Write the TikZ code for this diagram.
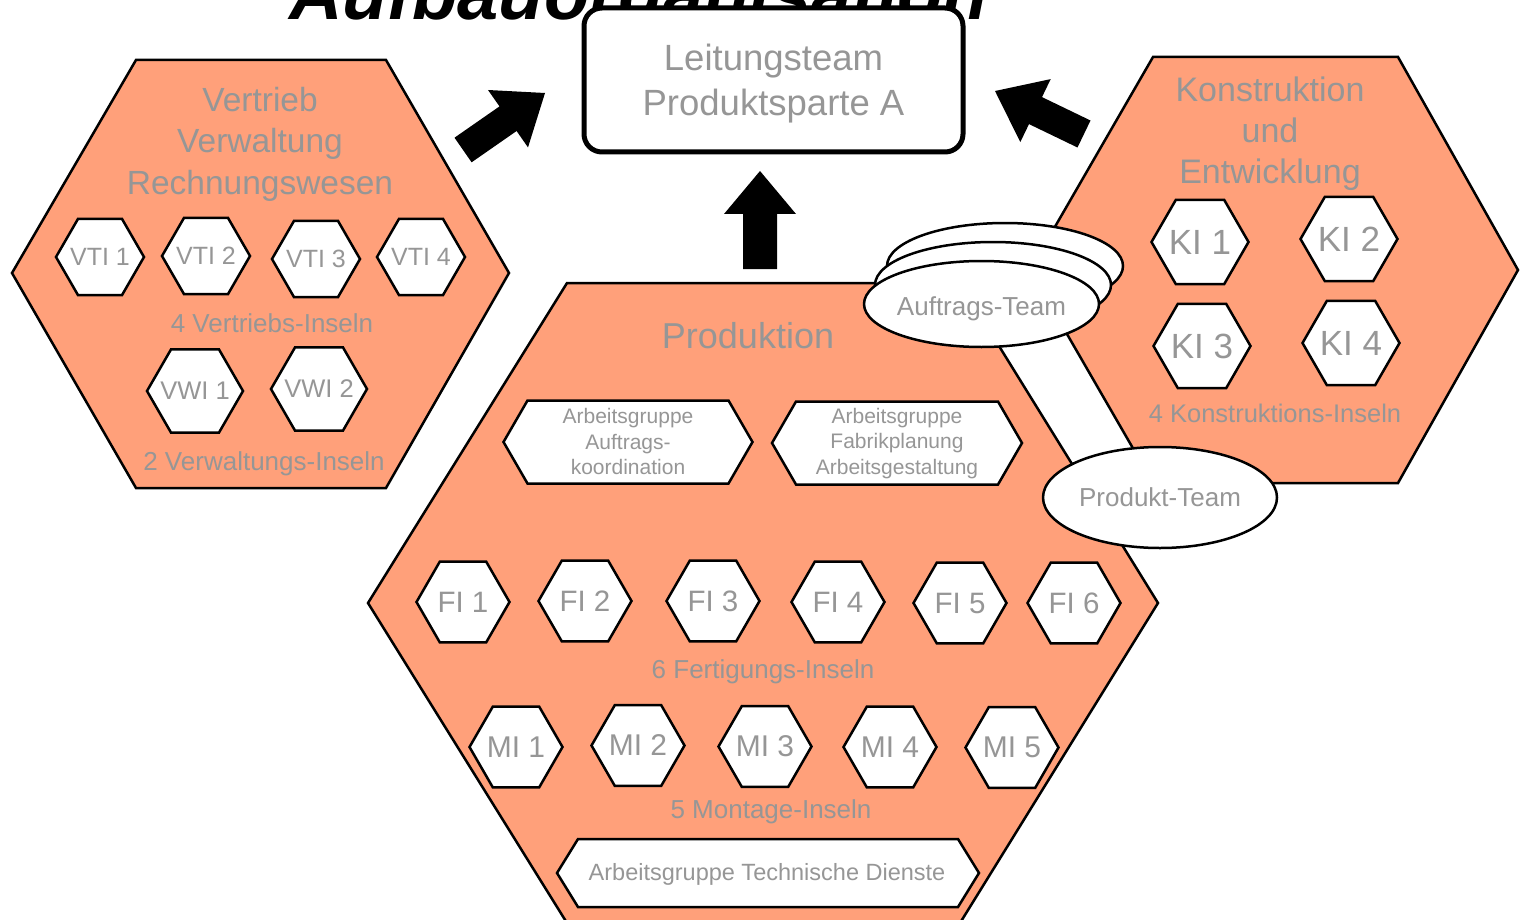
\documentclass[tikz,border=0pt]{standalone}
\usepackage{fontspec}
\setmainfont{Liberation Sans}
\usetikzlibrary{shapes.geometric}

\definecolor{lachs}{RGB}{255,160,122}
\definecolor{grauschrift}{RGB}{150,150,150}
\newcommand{\schrift}[2]{\fontsize{#1}{#2}\selectfont}

\tikzset{
  bereich/.style={draw=black, line width=2.5pt, fill=lachs},
  insel/.style={regular polygon, regular polygon sides=6, draw=black, line width=2.5pt,
    fill=white, inner sep=0pt, text=grauschrift},
  gruppe/.style={draw=black, line width=2.5pt, fill=white},
  team/.style={ellipse, draw=black, line width=2.5pt, fill=white, inner sep=0pt,
    text=grauschrift, font=\schrift{26}{30}},
  txt/.style={text=grauschrift, inner sep=0pt, align=center},
  pfeil/.style={fill=black},
}

\begin{document}
\begin{tikzpicture}[x=1pt,y=-1pt]
\useasboundingbox (0,0) rectangle (1520,920);
\clip (0,0) rectangle (1520,920);
% title, mostly outside the page:
\node[anchor=base west, inner sep=0pt, font=\schrift{74}{80}\bfseries\itshape] (titel) at (289,20) {Aufbauorganisation};
% Vertrieb / Verwaltung:
\draw[bereich] (12,273) -- (136,60) -- (386,60) -- (509,273) -- (386,488) -- (136,488) -- cycle;
\node[txt, font=\schrift{33.5}{41.5}] (vertrieb) at (260,144) {Vertrieb\\Verwaltung\\Rechnungswesen};
\node[insel, minimum size=88pt, font=\schrift{25}{30}] (vti1) at (100,257) {\makebox[0pt]{VTI 1}};
\node[insel, minimum size=88pt, font=\schrift{25}{30}] (vti2) at (206,256) {\makebox[0pt]{VTI 2}};
\node[insel, minimum size=88pt, font=\schrift{25}{30}] (vti3) at (316,259) {\makebox[0pt]{VTI 3}};
\node[insel, minimum size=88pt, font=\schrift{25}{30}] (vti4) at (421,257) {\makebox[0pt]{VTI 4}};
\node[txt, font=\schrift{26}{30}] (vtiText) at (272,323.5) {4 Vertriebs-Inseln};
\node[insel, minimum size=96pt, font=\schrift{25.5}{30}] (vwi1) at (195,391) {\makebox[0pt]{VWI 1}};
\node[insel, minimum size=96pt, font=\schrift{25.5}{30}] (vwi2) at (319,389) {\makebox[0pt]{VWI 2}};
\node[txt, font=\schrift{26}{30}] (vwiText) at (264,464) {2 Verwaltungs-Inseln};
% Produktion:
\draw[bereich] (368,603) -- (567,283) -- (960,283) -- (1158,603) -- (960,923) -- (567,923) -- cycle;
\node[txt, font=\schrift{36}{42}] (produktion) at (748,335.5) {Produktion};
\draw[gruppe] (503.5,442) -- (527.5,400.5) -- (728.5,400.5) -- (752.5,442) -- (728.5,483.5) -- (527.5,483.5) -- cycle;
\node[txt, font=\schrift{21}{25.5}] (ag1) at (628,441.5) {Arbeitsgruppe\\Auftrags-\\koordination};
\draw[gruppe] (772,443) -- (796,401.5) -- (998,401.5) -- (1022,443) -- (998,484.5) -- (796,484.5) -- cycle;
\node[txt, font=\schrift{21}{25.5}] (ag2) at (897,443.5) {Arbeitsgruppe\\Fabrikplanung\\Arbeitsgestaltung};
\node[insel, minimum size=93pt, font=\schrift{29.5}{34}] (fi1) at (463,602) {\makebox[0pt]{FI 1}};
\node[insel, minimum size=93pt, font=\schrift{29.5}{34}] (fi2) at (585,601) {\makebox[0pt]{FI 2}};
\node[insel, minimum size=93pt, font=\schrift{29.5}{34}] (fi3) at (713,601) {\makebox[0pt]{FI 3}};
\node[insel, minimum size=93pt, font=\schrift{29.5}{34}] (fi4) at (838,602) {\makebox[0pt]{FI 4}};
\node[insel, minimum size=93pt, font=\schrift{29.5}{34}] (fi5) at (960,603) {\makebox[0pt]{FI 5}};
\node[insel, minimum size=93pt, font=\schrift{29.5}{34}] (fi6) at (1074,603) {\makebox[0pt]{FI 6}};
\node[txt, font=\schrift{26}{30}] (fiText) at (763,671.5) {6 Fertigungs-Inseln};
\node[insel, minimum size=93pt, font=\schrift{30}{34}] (mi1) at (516,747) {\makebox[0pt]{MI 1}};
\node[insel, minimum size=93pt, font=\schrift{30}{34}] (mi2) at (638,745.5) {\makebox[0pt]{MI 2}};
\node[insel, minimum size=93pt, font=\schrift{30}{34}] (mi3) at (765,746.5) {\makebox[0pt]{MI 3}};
\node[insel, minimum size=93pt, font=\schrift{30}{34}] (mi4) at (890,747) {\makebox[0pt]{MI 4}};
\node[insel, minimum size=93pt, font=\schrift{30}{34}] (mi5) at (1012,747.5) {\makebox[0pt]{MI 5}};
\node[txt, font=\schrift{26}{30}] (miText) at (771,812) {5 Montage-Inseln};
\draw[gruppe] (557,873) -- (578,839) -- (958,839) -- (979,873) -- (958,907) -- (578,907) -- cycle;
\node[txt, font=\schrift{23.5}{28}] (ag3) at (767,874.5) {Arbeitsgruppe Technische Dienste};
% Konstruktion und Entwicklung:
\draw[bereich] (1030,270) -- (1153,57) -- (1398,57) -- (1518,270) -- (1398,483) -- (1153,483) -- cycle;
\node[txt, font=\schrift{34}{41}] (konstruktion) at (1270,134) {Konstruktion\\und\\Entwicklung};
\node[insel, minimum size=97pt, font=\schrift{35}{40}] (ki1) at (1200,242) {\makebox[0pt]{KI 1}};
\node[insel, minimum size=97pt, font=\schrift{35}{40}] (ki2) at (1349,239) {\makebox[0pt]{KI 2}};
\node[insel, minimum size=97pt, font=\schrift{35}{40}] (ki3) at (1202,346) {\makebox[0pt]{KI 3}};
\node[insel, minimum size=97pt, font=\schrift{35}{40}] (ki4) at (1351,343) {\makebox[0pt]{KI 4}};
\node[txt, font=\schrift{25.5}{30}] (kiText) at (1275,413) {4 Konstruktions-Inseln};
% teams on top:
\node[team, minimum width=236pt, minimum height=86pt] (auftragC) at (1005,266) {};
\node[team, minimum width=236pt, minimum height=86pt] (auftragB) at (993,285) {};
\node[team, minimum width=235pt, minimum height=86pt, text height=27.5pt, text depth=5.5pt] (auftrag) at (981.5,304) {\makebox[0pt]{Auftrags-Team}};
\node[team, minimum width=234pt, minimum height=101pt] (produktTeam) at (1160,497.5) {\makebox[0pt]{Produkt-Team}};
% Leitungsteam and arrows:
\node[draw=black, line width=5pt, rounded corners=18pt, fill=white, minimum width=379pt, minimum height=144pt,
  txt, font=\schrift{36.5}{45}] (leitung) at (773.5,80) {};
\node[txt, font=\schrift{36.5}{45}] (leitungText) at (773.5,83.5) {Leitungsteam\\Produktsparte A};
\path[pfeil] (454.5,137.7) -- (499.5,106.4) -- (488,90) -- (545,93) -- (528,147.4) -- (516.6,131) -- (471.6,162.3) -- cycle;
\path[pfeil] (743,269) -- (743,214) -- (724,214) -- (760,171) -- (796,214) -- (777,214) -- (777,269) -- cycle;
\path[pfeil] (1090.5,120.5) -- (1042,97.1) -- (1050.7,79.1) -- (995,91) -- (1020.3,142.1) -- (1029,124.1) -- (1077.5,147.5) -- cycle;
\end{tikzpicture}
\end{document}
